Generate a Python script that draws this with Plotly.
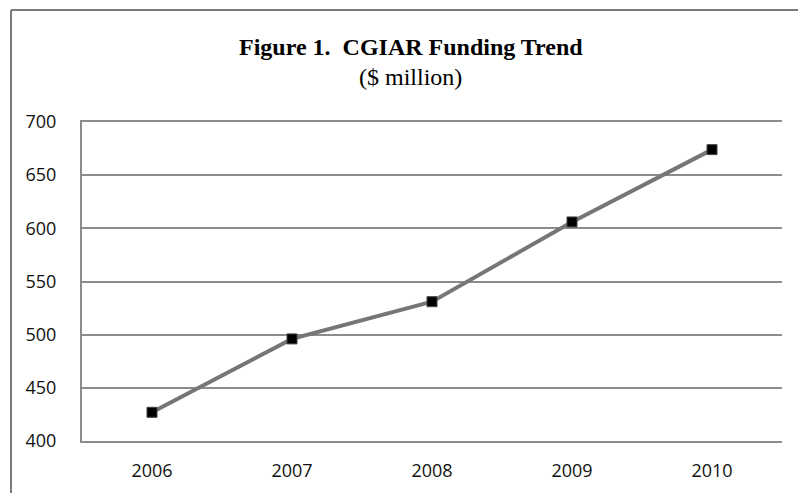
import plotly.graph_objects as go

years = ["2006", "2007", "2008", "2009", "2010"]
funding = [427, 496, 531, 606, 674]
y_ticks = [400, 450, 500, 550, 600, 650, 700]

W, H = 798, 493
L, R, T, B = 82, 16, 122, 52
pw, ph = W - L - R, H - T - B

def px(x):
    return (x - L) / pw

def py(y):
    return (H - B - y) / ph

fig = go.Figure()
fig.add_trace(go.Scatter(
    x=years, y=funding, mode="lines+markers",
    line=dict(color="#767676", width=4),
    marker=dict(symbol="square", size=10, color="#000000",
                line=dict(color="#444444", width=1)),
    showlegend=False, cliponaxis=False,
))

grid = "#8c8c8c"
tick_font = dict(family="Open Sans, Liberation Sans, sans-serif", size=18, color="#111")
fig.update_layout(
    width=W, height=H,
    margin=dict(l=L, r=R, t=T, b=B),
    paper_bgcolor="white", plot_bgcolor="white",
    xaxis=dict(type="category", range=[-0.5, 4.5], showgrid=False,
               showline=True, linecolor=grid, linewidth=2, mirror=True, ticks="",
               tickfont=tick_font, ticklabelstandoff=12, zeroline=False),
    yaxis=dict(range=[400, 700], tickvals=y_ticks, showgrid=True,
               gridcolor=grid, gridwidth=2, showline=True, linecolor=grid,
               linewidth=2, ticks="", zeroline=False,
               tickfont=tick_font, ticklabelstandoff=20),
    shapes=[
        dict(type="line", xref="paper", yref="paper", x0=px(11), x1=px(800),
             y0=py(10), y1=py(10), line=dict(color="#7a7a7a", width=2)),
        dict(type="line", xref="paper", yref="paper", x0=px(11), x1=px(11),
             y0=py(10), y1=py(495), line=dict(color="#7a7a7a", width=2)),
    ],
    annotations=[
        dict(text="<b>Figure 1.  CGIAR Funding Trend</b>", xref="paper", yref="paper",
             x=px(411), y=py(47), xanchor="center", yanchor="middle", showarrow=False,
             font=dict(family="Liberation Serif, Times New Roman, serif", size=24, color="#000")),
        dict(text="($ million)", xref="paper", yref="paper",
             x=px(410), y=py(77), xanchor="center", yanchor="middle", showarrow=False,
             font=dict(family="Liberation Serif, Times New Roman, serif", size=24, color="#000")),
    ],
)

fig.write_html("out.html")
